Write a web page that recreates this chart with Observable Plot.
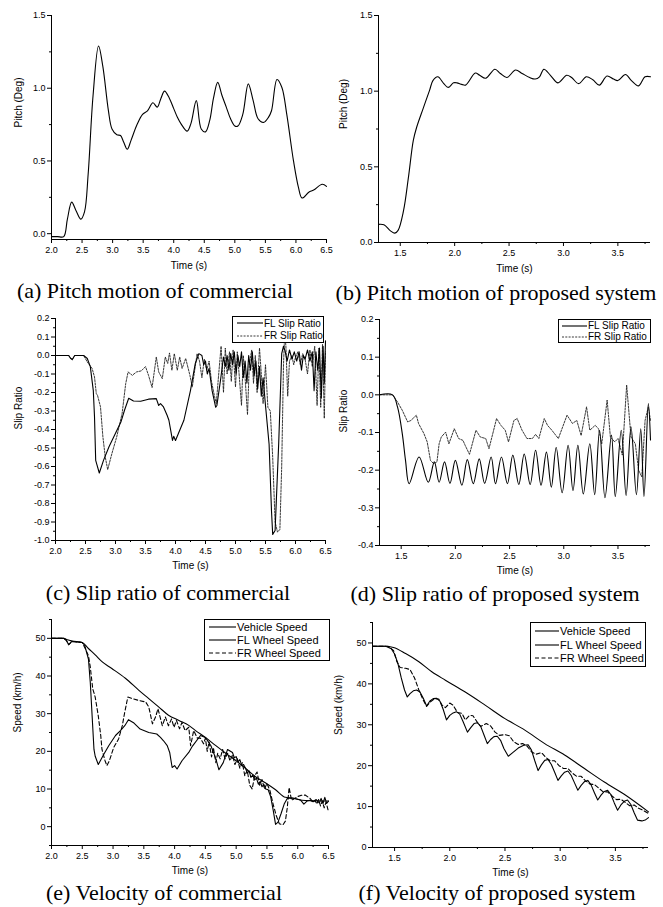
<!DOCTYPE html>
<html><head><meta charset="utf-8">
<script src="https://cdn.jsdelivr.net/npm/d3@7"></script>
<script src="https://cdn.jsdelivr.net/npm/@observablehq/plot@0.6"></script>
<style>
body{margin:0;background:#fff;}
#page{position:relative;width:663px;height:907px;overflow:hidden;background:#fff;}
.panel{position:absolute;}
.cap{position:absolute;font-family:"Liberation Serif","Times New Roman",serif;font-size:22px;white-space:nowrap;transform:translate(-50%,-50%);color:#000;}
.legend{position:absolute;border:1px solid #000;background:#fff;font-family:"Liberation Sans",Arial,sans-serif;font-size:11px;box-sizing:border-box;display:flex;flex-direction:column;justify-content:space-evenly;color:#000;overflow:hidden;}
.legend.small{font-size:10px;}
.legend .row{display:flex;align-items:center;height:12px;white-space:nowrap;}
.legend svg{display:block;margin-right:1px;}
</style></head><body><div id="page"></div>
<script>
// ---------- tick labels ----------
const xTicksComm = [2.0, 2.5, 3.0, 3.5, 4.0, 4.5, 5.0, 5.5, 6.0, 6.5];
const xMinorComm = [2.25, 2.75, 3.25, 3.75, 4.25, 4.75, 5.25, 5.75, 6.25];
const xTicksProp = [1.5, 2.0, 2.5, 3.0, 3.5];
const xMinorProp = [1.75, 2.25, 2.75, 3.25, 3.75];
const pitchTicks = [0.0, 0.5, 1.0, 1.5];
const pitchMinor = [0.25, 0.75, 1.25];
const slipTicksC = [0.2, 0.1, 0.0, -0.1, -0.2, -0.3, -0.4, -0.5, -0.6, -0.7, -0.8, -0.9, -1.0];
const slipMinorC = [0.15, 0.05, -0.05, -0.15, -0.25, -0.35, -0.45, -0.55, -0.65, -0.75, -0.85, -0.95];
const slipTicksD = [0.2, 0.1, 0.0, -0.1, -0.2, -0.3, -0.4];
const slipMinorD = [0.15, 0.05, -0.05, -0.15, -0.25, -0.35];
const speedTicks = [0, 10, 20, 30, 40, 50];
const speedMinorE = [-5, 5, 15, 25, 35, 45, 55];
const speedMinorF = [5, 15, 25, 35, 45, 55];

// ---------- legends & captions ----------
const slipLegend = ["FL Slip Ratio", "FR Slip Ratio"];
const speedLegend = ["Vehicle Speed", "FL Wheel Speed", "FR Wheel Speed"];
const captions = ["(a) Pitch motion of commercial", "(b) Pitch motion of proposed system",
  "(c) Slip ratio of commercial", "(d) Slip ratio of proposed system",
  "(e) Velocity of commercial", "(f) Velocity of proposed system"];

// ---------- (a) pitch, commercial ----------
const pitchComm = [[2.0,-0.02],[2.1,-0.02],[2.2,-0.02],[2.26,0.1],[2.33,0.217],[2.4,0.16],[2.48,0.10],[2.54,0.15],[2.6,0.41],[2.68,0.95],[2.77,1.29],[2.84,1.15],[2.93,0.85],[2.99,0.72],[3.07,0.68],[3.13,0.675],[3.18,0.63],[3.24,0.58],[3.3,0.64],[3.4,0.75],[3.49,0.82],[3.57,0.845],[3.66,0.90],[3.73,0.87],[3.79,0.93],[3.85,0.98],[3.93,0.93],[4.0,0.86],[4.06,0.80],[4.12,0.755],[4.22,0.705],[4.28,0.755],[4.37,0.915],[4.45,0.72],[4.52,0.70],[4.59,0.78],[4.65,0.93],[4.72,1.04],[4.79,0.95],[4.86,0.87],[4.93,0.79],[5.0,0.74],[5.05,0.74],[5.13,0.82],[5.22,1.03],[5.3,0.915],[5.38,0.79],[5.47,0.765],[5.55,0.80],[5.6,0.845],[5.69,1.06],[5.77,1.005],[5.85,0.82],[5.96,0.50],[6.04,0.32],[6.1,0.245],[6.21,0.285],[6.29,0.30],[6.43,0.34],[6.5,0.325]];

// ---------- (b) pitch, proposed ----------
const pitchProp = [[1.3,0.12],[1.35,0.117],[1.41,0.077],[1.45,0.062],[1.48,0.08],[1.53,0.21],[1.575,0.43],[1.62,0.675],[1.65,0.76],[1.71,0.885],[1.77,1.007],[1.8,1.07],[1.845,1.095],[1.9,1.05],[1.94,1.025],[1.99,1.055],[2.02,1.055],[2.065,1.045],[2.1,1.04],[2.19,1.12],[2.23,1.105],[2.285,1.085],[2.37,1.145],[2.42,1.117],[2.48,1.09],[2.56,1.14],[2.62,1.117],[2.69,1.09],[2.74,1.08],[2.78,1.095],[2.82,1.145],[2.88,1.105],[2.95,1.055],[3.03,1.105],[3.075,1.09],[3.14,1.05],[3.21,1.095],[3.27,1.075],[3.33,1.04],[3.4,1.10],[3.46,1.08],[3.5,1.07],[3.57,1.11],[3.625,1.07],[3.69,1.035],[3.75,1.095],[3.8,1.095]];

// ---------- (c) slip ratio, commercial ----------
const slipCommFL = [[2.0,0],[2.22,0],[2.25,-0.015],[2.28,-0.022],[2.32,0],[2.47,0],[2.53,-0.016],[2.58,-0.06],[2.63,-0.19],[2.65,-0.33],[2.67,-0.567],[2.69,-0.59],[2.73,-0.635],[2.8,-0.567],[2.89,-0.495],[3.0,-0.42],[3.09,-0.36],[3.15,-0.296],[3.22,-0.231],[3.3,-0.246],[3.42,-0.247],[3.55,-0.236],[3.68,-0.233],[3.72,-0.27],[3.75,-0.26],[3.8,-0.278],[3.86,-0.323],[3.89,-0.35],[3.95,-0.459],[3.97,-0.437],[4.0,-0.459],[4.05,-0.42],[4.14,-0.35],[4.25,-0.188],[4.33,-0.043],[4.39,0.01],[4.44,0.0],[4.47,-0.05],[4.5,-0.03],[4.53,-0.1],[4.56,-0.07],[4.61,-0.19],[4.67,-0.28],[4.69,-0.27],[4.75,-0.134],[4.8,-0.008],[4.83,-0.06],[4.86,0.0],[4.89,-0.08],[4.92,0.01],[4.95,-0.05],[4.98,0.02],[5.01,-0.1],[5.04,0.0],[5.07,-0.06],[5.1,0.02],[5.13,-0.12],[5.16,-0.03],[5.19,-0.15],[5.22,0.0],[5.25,-0.08],[5.28,0.02],[5.31,-0.11],[5.34,-0.03],[5.37,-0.18],[5.4,-0.06],[5.43,-0.22],[5.46,-0.12],[5.5,-0.27],[5.56,-0.48],[5.6,-0.84],[5.62,-0.967],[5.66,-0.946],[5.72,-0.475],[5.77,0.01],[5.8,0.05],[5.83,0.02],[5.86,-0.03],[5.9,0.03],[5.94,-0.02],[5.98,0.02],[6.02,-0.03],[6.06,0.02],[6.1,-0.08],[6.13,0.0],[6.16,-0.02],[6.2,0.03],[6.24,-0.03],[6.28,0.02],[6.31,-0.19],[6.34,0.02],[6.37,-0.08],[6.4,0.04],[6.43,-0.23],[6.46,0.05],[6.48,-0.15],[6.5,0.08]];
const slipCommFR = [[2.0,0],[2.22,0],[2.25,-0.015],[2.28,-0.022],[2.32,0],[2.47,0],[2.53,-0.035],[2.61,-0.07],[2.65,-0.116],[2.68,-0.206],[2.7,-0.215],[2.75,-0.278],[2.79,-0.44],[2.83,-0.55],[2.87,-0.617],[2.94,-0.53],[3.02,-0.44],[3.11,-0.314],[3.17,-0.152],[3.21,-0.089],[3.28,-0.107],[3.35,-0.089],[3.43,-0.083],[3.5,-0.06],[3.55,-0.107],[3.61,-0.173],[3.68,-0.008],[3.72,-0.089],[3.78,-0.125],[3.83,-0.008],[3.87,-0.043],[3.9,0.014],[3.94,-0.08],[3.98,0.01],[4.03,-0.08],[4.07,-0.008],[4.11,-0.07],[4.17,-0.016],[4.24,-0.107],[4.28,-0.17],[4.36,0.01],[4.4,-0.03],[4.44,-0.12],[4.48,-0.02],[4.52,-0.08],[4.56,-0.03],[4.6,-0.14],[4.65,-0.22],[4.68,-0.26],[4.72,-0.1],[4.76,0.05],[4.8,-0.2],[4.83,0.04],[4.86,-0.1],[4.9,0.02],[4.93,-0.14],[4.96,0.03],[5.0,-0.17],[5.03,0.02],[5.06,-0.1],[5.1,-0.27],[5.13,0.0],[5.16,-0.12],[5.2,-0.32],[5.23,-0.05],[5.27,0.03],[5.3,-0.15],[5.33,0.0],[5.36,-0.2],[5.4,0.04],[5.43,-0.1],[5.46,-0.26],[5.5,-0.05],[5.54,-0.28],[5.58,-0.3],[5.62,-0.55],[5.66,-0.9],[5.7,-0.955],[5.74,-0.94],[5.77,-0.6],[5.8,-0.05],[5.82,0.12],[5.84,0.05],[5.87,-0.22],[5.9,-0.03],[5.94,0.0],[5.97,-0.05],[6.0,-0.01],[6.04,0.02],[6.08,-0.05],[6.12,0.01],[6.16,-0.02],[6.2,-0.1],[6.24,0.03],[6.28,-0.06],[6.32,0.05],[6.36,-0.27],[6.39,0.04],[6.42,-0.28],[6.45,0.06],[6.48,-0.34],[6.5,0.02]];

// ---------- (d) slip ratio, proposed ----------
const slipPropFL = [[1.3,0],[1.42,0],[1.466,-0.032],[1.51,-0.103],[1.54,-0.174],[1.573,-0.236],[1.665,-0.165],[1.75,-0.232],[1.806,-0.178],[1.85,-0.232],[1.9,-0.178],[1.95,-0.235],[2.0,-0.174],[2.06,-0.24],[2.11,-0.172],[2.165,-0.236],[2.22,-0.17],[2.27,-0.235],[2.33,-0.165],[2.37,-0.236],[2.425,-0.165],[2.48,-0.236],[2.53,-0.16],[2.585,-0.238],[2.635,-0.157],[2.69,-0.238],[2.74,-0.147],[2.79,-0.24],[2.84,-0.152],[2.885,-0.245],[2.93,-0.14],[2.985,-0.26],[3.04,-0.134],[3.085,-0.254],[3.13,-0.134],[3.18,-0.263],[3.24,-0.13],[3.285,-0.265],[3.33,-0.094],[3.38,-0.273],[3.44,-0.107],[3.475,-0.27],[3.53,-0.094],[3.575,-0.267],[3.62,-0.085],[3.67,-0.265],[3.71,-0.09],[3.74,-0.27],[3.78,-0.023],[3.8,-0.12]];
const slipPropFR = [[1.3,0],[1.42,0],[1.466,-0.019],[1.51,-0.041],[1.56,-0.072],[1.59,-0.068],[1.64,-0.054],[1.66,-0.076],[1.71,-0.103],[1.74,-0.125],[1.77,-0.174],[1.8,-0.183],[1.83,-0.178],[1.85,-0.13],[1.87,-0.112],[1.91,-0.099],[1.94,-0.13],[1.99,-0.09],[2.03,-0.116],[2.07,-0.121],[2.09,-0.134],[2.13,-0.158],[2.19,-0.094],[2.23,-0.112],[2.28,-0.116],[2.31,-0.143],[2.38,-0.063],[2.42,-0.081],[2.46,-0.094],[2.49,-0.125],[2.54,-0.068],[2.57,-0.063],[2.615,-0.094],[2.66,-0.116],[2.71,-0.116],[2.74,-0.105],[2.77,-0.116],[2.82,-0.063],[2.85,-0.081],[2.89,-0.094],[2.95,-0.116],[3.03,-0.054],[3.08,-0.076],[3.12,-0.068],[3.16,-0.108],[3.21,-0.032],[3.24,-0.094],[3.29,-0.081],[3.32,-0.09],[3.35,-0.13],[3.4,-0.014],[3.43,-0.112],[3.47,-0.125],[3.5,-0.116],[3.54,-0.16],[3.58,0.026],[3.62,-0.112],[3.66,-0.13],[3.69,-0.2],[3.72,-0.218],[3.75,-0.068],[3.78,-0.032],[3.8,-0.068]];

// ---------- (e) speed, commercial ----------
const speedCommVeh = [[2.0,50],[2.2,50],[2.26,49.6],[2.33,49.3],[2.5,48.9],[2.6,47.3],[2.71,45.6],[2.82,43.8],[2.98,42],[3.2,39.4],[3.42,36.2],[3.58,34],[3.74,31.8],[3.9,29.6],[4.07,28.2],[4.23,26.9],[4.34,25.5],[4.5,23.7],[4.67,21.5],[4.83,19.5],[5.0,17.5],[5.15,15.5],[5.32,13.2],[5.48,11.6],[5.64,9.8],[5.8,7.8],[5.91,7.6],[6.07,7.0],[6.25,6.9],[6.5,6.8]];
const speedCommFL = [[2.0,50],[2.2,50],[2.24,49.5],[2.28,48.3],[2.33,49.2],[2.5,48.9],[2.54,48.1],[2.6,44.5],[2.63,38.3],[2.66,29.4],[2.69,20.5],[2.71,18.7],[2.76,16.5],[2.85,19.2],[2.93,21.5],[3.04,24.2],[3.12,25.5],[3.19,26.8],[3.25,28.4],[3.34,27.5],[3.44,25.9],[3.58,25],[3.71,24.6],[3.77,23.7],[3.82,22.8],[3.88,21.5],[3.92,19.7],[3.96,15.7],[4.0,16.2],[4.04,15.3],[4.12,17.5],[4.23,19.7],[4.29,21.4],[4.42,24.2],[4.5,23.7],[4.59,21.5],[4.67,18],[4.72,15.1],[4.79,17],[4.86,20.5],[4.94,19.7],[4.97,18.3],[5.0,18.6],[5.03,17.2],[5.06,17.8],[5.09,16.3],[5.12,16.5],[5.15,15.6],[5.18,14.2],[5.21,14.8],[5.24,13.1],[5.27,13.7],[5.3,12.4],[5.33,12.9],[5.36,11.3],[5.39,12],[5.42,10.6],[5.45,11.2],[5.48,10],[5.52,9.8],[5.56,8],[5.6,4.5],[5.64,0.6],[5.68,1.2],[5.73,3.5],[5.78,6],[5.83,7.5],[5.88,7.6],[5.95,7.5],[6.0,7.3],[6.05,7.0],[6.1,6.0],[6.15,6.8],[6.2,7.0],[6.25,6.6],[6.3,7.2],[6.35,6.3],[6.38,7.5],[6.41,6.1],[6.44,7.8],[6.47,6.2],[6.5,6.8]];
const speedCommFR = [[2.0,50],[2.2,50],[2.24,49.5],[2.28,48.3],[2.33,49.2],[2.5,48.9],[2.55,47.2],[2.6,45.4],[2.63,42.4],[2.67,36.6],[2.71,34.4],[2.76,29.4],[2.8,24.2],[2.82,20.5],[2.87,17.5],[2.9,16.2],[2.94,17.5],[3.01,21],[3.09,23.3],[3.15,26.8],[3.19,30.4],[3.24,34.4],[3.31,34],[3.42,33.5],[3.53,33.1],[3.58,31.8],[3.64,27.3],[3.69,29.1],[3.73,31.3],[3.8,26.8],[3.85,29.1],[3.9,26.8],[3.95,28.6],[3.99,26.4],[4.03,28.2],[4.08,26],[4.12,27.7],[4.17,25.5],[4.23,26.4],[4.26,21.5],[4.31,25.5],[4.37,23.5],[4.42,23.5],[4.47,22],[4.5,23.5],[4.53,20],[4.56,22.5],[4.6,18.5],[4.63,21],[4.67,17],[4.7,19.5],[4.74,18],[4.78,20.5],[4.82,18],[4.86,19.5],[4.9,17.5],[4.94,19],[4.98,16.5],[5.02,18],[5.06,15.5],[5.1,17],[5.14,13.5],[5.18,15],[5.22,11],[5.26,10],[5.3,13.5],[5.34,14.5],[5.38,11],[5.42,12.5],[5.46,10],[5.5,11.5],[5.55,9.5],[5.6,6],[5.65,3],[5.7,0.8],[5.76,0.5],[5.8,1.5],[5.83,5],[5.86,10.4],[5.9,7],[5.95,7.5],[6.0,8],[6.05,8.3],[6.12,8.4],[6.2,7.5],[6.25,6.5],[6.28,7],[6.31,6],[6.34,7.2],[6.37,5.5],[6.4,6.8],[6.43,5],[6.46,6.5],[6.5,4]];

// ---------- (f) speed, proposed ----------
const speedPropVeh = [[1.3,49.2],[1.41,49.2],[1.49,48.9],[1.6,47.4],[1.72,45.4],[1.84,42.9],[1.96,40.9],[2.14,38],[2.32,34.8],[2.5,31.5],[2.68,28.7],[2.86,25.4],[3.04,22.6],[3.22,19.3],[3.4,16],[3.58,13],[3.8,8.7]];
const speedPropFL = [[1.3,49.2],[1.42,49.2],[1.47,48.6],[1.5,47.3],[1.53,45],[1.56,41.5],[1.59,38.5],[1.615,36.8],[1.64,37.6],[1.67,38.3],[1.7,38.5],[1.73,38],[1.76,36.5],[1.79,34.6],[1.82,35.8],[1.85,36.4],[1.88,36.5],[1.91,35.8],[1.94,33.8],[1.97,31.2],[2.0,32.3],[2.03,32.9],[2.06,33.2],[2.09,32.6],[2.12,30.8],[2.16,28.2],[2.19,29.3],[2.22,30.3],[2.25,30.5],[2.28,29.6],[2.31,27.5],[2.34,25.4],[2.37,26.4],[2.4,27.1],[2.43,27.2],[2.46,26.2],[2.49,24.2],[2.53,22.3],[2.57,23.2],[2.62,24.3],[2.67,25],[2.71,25.1],[2.74,23.8],[2.77,21.2],[2.8,18.8],[2.83,20.2],[2.86,21.3],[2.89,21.5],[2.92,20.3],[2.95,18.4],[2.98,16.4],[3.01,17.5],[3.04,18.4],[3.07,18.7],[3.1,17.6],[3.13,15.8],[3.16,14],[3.19,15.2],[3.22,16.1],[3.25,16.4],[3.28,15.3],[3.31,13.4],[3.34,11.6],[3.37,12.8],[3.4,13.7],[3.43,14],[3.46,12.9],[3.49,10.9],[3.52,9.1],[3.55,10.4],[3.58,11.3],[3.61,11.6],[3.64,10.5],[3.67,8.5],[3.7,6.7],[3.74,6.5],[3.77,6.7],[3.8,7.3]];
const speedPropFR = [[1.3,49.2],[1.44,49.2],[1.49,48.2],[1.52,45.5],[1.55,44],[1.6,43.8],[1.64,43.5],[1.68,41.5],[1.72,38.5],[1.76,36],[1.79,34.5],[1.82,35.5],[1.86,36.3],[1.9,36.3],[1.93,34.8],[1.96,34.2],[2.0,35.3],[2.03,34.8],[2.07,33],[2.11,32.8],[2.14,31.2],[2.18,32.3],[2.21,32.2],[2.25,30.6],[2.28,29.6],[2.33,30.3],[2.37,29.7],[2.41,28.2],[2.45,27.4],[2.5,27.6],[2.54,27.3],[2.58,25.8],[2.62,25.2],[2.66,25.4],[2.7,24.8],[2.74,23.4],[2.78,22.8],[2.83,23.2],[2.87,22],[2.91,21.2],[2.95,21.2],[2.99,20],[3.03,19.3],[3.07,19.3],[3.11,18.2],[3.15,17.4],[3.19,17.4],[3.23,16.3],[3.27,15.5],[3.31,15.4],[3.35,14.5],[3.39,13.6],[3.43,13.6],[3.47,12.6],[3.51,11.7],[3.55,11.8],[3.59,11],[3.63,10.2],[3.67,10.4],[3.71,9.6],[3.75,9.1],[3.8,8.3]];

// ---------- drawing ----------
const page = document.getElementById("page");
const fmt1 = d => d.toFixed(1);
const fmt0 = d => String(d);
const solid = {stroke: "#000", width: 1.1, dash: null};
const dotted = {stroke: "#222", width: 0.9, dash: "2,1.3"};
const dashed = {stroke: "#000", width: 1.1, dash: "4,2.5"};

function drawPanel(c) {
  const marks = [
    Plot.axisX(c.xMinor, {tickSize: 2, tickFormat: () => "", label: null}),
    Plot.axisY(c.yMinor, {tickSize: 2, tickFormat: () => "", label: null}),
    Plot.axisX(c.xMajor, {tickSize: 4, tickPadding: 3, tickFormat: fmt1, label: null}),
    Plot.axisY(c.yMajor, {tickSize: 4, tickPadding: 2, tickFormat: c.fmtY, label: null}),
    Plot.ruleX([c.xDomain[0]], {stroke: "#000", strokeWidth: 1}),
    Plot.ruleY([c.yDomain[0]], {stroke: "#000", strokeWidth: 1})
  ];
  c.series.forEach(s => marks.push(Plot.line(s.data, {
    x: d => d[0], y: d => d[1], stroke: s.style.stroke, strokeWidth: s.style.width,
    strokeDasharray: s.style.dash, curve: s.curve || "linear"
  })));
  marks.push(Plot.text([c.yLabel], {text: d => d, frameAnchor: "left", dx: c.yDx, rotate: -90, fontSize: 10}));
  marks.push(Plot.text([c.xLabel], {text: d => d, frameAnchor: "bottom", dy: c.xDy, fontSize: 10}));
  const svg = Plot.plot({
    width: c.width, height: c.height,
    marginLeft: c.m[0], marginRight: c.m[1], marginTop: c.m[2], marginBottom: c.m[3],
    x: {domain: c.xDomain, label: null},
    y: {domain: c.yDomain, label: null},
    style: {fontFamily: "'Liberation Sans', Arial, sans-serif", fontSize: "9px", color: "#000", background: "transparent", overflow: "visible"},
    marks
  });
  const div = document.createElement("div");
  div.className = "panel";
  div.style.left = c.left + "px";
  div.style.top = c.top + "px";
  div.appendChild(svg);
  page.appendChild(div);
}

function drawLegend(l, labels, styles) {
  const div = document.createElement("div");
  div.className = "legend" + (l.small ? " small" : "");
  Object.assign(div.style, {left: l.left + "px", top: l.top + "px", width: l.w + "px", height: l.h + "px", paddingLeft: l.pad + "px"});
  labels.forEach((lab, i) => {
    const row = document.createElement("div");
    row.className = "row";
    const st = styles[i];
    const ns = "http://www.w3.org/2000/svg";
    const s = document.createElementNS(ns, "svg");
    s.setAttribute("width", l.sw); s.setAttribute("height", 10);
    const ln = document.createElementNS(ns, "line");
    ln.setAttribute("x1", 0); ln.setAttribute("x2", l.sw); ln.setAttribute("y1", 5); ln.setAttribute("y2", 5);
    ln.setAttribute("stroke", st.stroke); ln.setAttribute("stroke-width", st.width);
    if (st.dash) ln.setAttribute("stroke-dasharray", st.dash);
    s.appendChild(ln);
    row.appendChild(s);
    const sp = document.createElement("span");
    sp.textContent = lab;
    row.appendChild(sp);
    div.appendChild(row);
  });
  page.appendChild(div);
}

function drawCaption(text, cx, cy) {
  const d = document.createElement("div");
  d.className = "cap";
  d.style.left = cx + "px"; d.style.top = cy + "px";
  d.textContent = text;
  page.appendChild(d);
}

const commX = [2.0, 6.5], propX = [1.3, 3.8];

drawPanel({left: 0, top: 0, width: 331, height: 275, m: [51, 5, 15, 36],
  xDomain: commX, yDomain: [-0.04, 1.5], xMajor: xTicksComm, xMinor: xMinorComm,
  yMajor: pitchTicks, yMinor: pitchMinor, fmtY: fmt1, yLabel: "Pitch (Deg)", xLabel: "Time (s)", yDx: -33, xDy: 29,
  series: [{data: pitchComm, style: solid, curve: "catmull-rom"}]});

drawPanel({left: 331, top: 0, width: 332, height: 278, m: [47, 13, 15, 36],
  xDomain: propX, yDomain: [0, 1.5], xMajor: xTicksProp, xMinor: xMinorProp,
  yMajor: pitchTicks, yMinor: pitchMinor, fmtY: fmt1, yLabel: "Pitch (Deg)", xLabel: "Time (s)", yDx: -35, xDy: 29,
  series: [{data: pitchProp, style: solid, curve: "catmull-rom"}]});

drawPanel({left: 0, top: 290, width: 331, height: 286, m: [55, 6, 28, 36],
  xDomain: commX, yDomain: [-1.0, 0.2], xMajor: xTicksComm, xMinor: xMinorComm,
  yMajor: slipTicksC, yMinor: slipMinorC, fmtY: fmt1, yLabel: "Slip Ratio", xLabel: "Time (s)", yDx: -37, xDy: 28,
  series: [{data: slipCommFR, style: dotted}, {data: slipCommFL, style: solid}]});

drawPanel({left: 331, top: 290, width: 332, height: 291, m: [48, 13, 29, 36],
  xDomain: propX, yDomain: [-0.4, 0.2], xMajor: xTicksProp, xMinor: xMinorProp,
  yMajor: slipTicksD, yMinor: slipMinorD, fmtY: fmt1, yLabel: "Slip Ratio", xLabel: "Time (s)", yDx: -36, xDy: 28,
  series: [{data: slipPropFR, style: dotted}, {data: slipPropFL, style: solid, curve: "catmull-rom"}]});

drawPanel({left: 0, top: 590, width: 331, height: 291, m: [51, 3, 29, 36],
  xDomain: commX, yDomain: [-5, 55], xMajor: xTicksComm, xMinor: xMinorComm,
  yMajor: speedTicks, yMinor: speedMinorE, fmtY: fmt0, yLabel: "Speed (km/h)", xLabel: "Time (s)", yDx: -34, xDy: 28,
  series: [{data: speedCommFR, style: dashed}, {data: speedCommFL, style: solid}, {data: speedCommVeh, style: solid, curve: "monotone-x"}]});

drawPanel({left: 331, top: 590, width: 332, height: 293, m: [41, 15, 32, 36],
  xDomain: propX, yDomain: [0, 55], xMajor: xTicksProp, xMinor: xMinorProp,
  yMajor: speedTicks, yMinor: speedMinorF, fmtY: fmt0, yLabel: "Speed (km/h)", xLabel: "Time (s)", yDx: -34, xDy: 28,
  series: [{data: speedPropFR, style: dashed}, {data: speedPropFL, style: solid}, {data: speedPropVeh, style: solid, curve: "monotone-x"}]});

drawLegend({left: 232, top: 316, w: 92, h: 27, pad: 4, sw: 26, small: true}, slipLegend, [solid, dotted]);
drawLegend({left: 558, top: 319, w: 93, h: 24, pad: 3, sw: 25, small: true}, slipLegend, [solid, dotted]);
drawLegend({left: 204, top: 619, w: 126, h: 42, pad: 4, sw: 27}, speedLegend, [solid, solid, dashed]);
drawLegend({left: 530, top: 622, w: 116, h: 45, pad: 4, sw: 24}, speedLegend, [solid, solid, dashed]);

const capPos = [[155, 291], [496, 293], [168, 593], [495, 594], [164, 893], [497, 893]];
captions.forEach((t, i) => drawCaption(t, capPos[i][0], capPos[i][1]));
</script></body></html>
